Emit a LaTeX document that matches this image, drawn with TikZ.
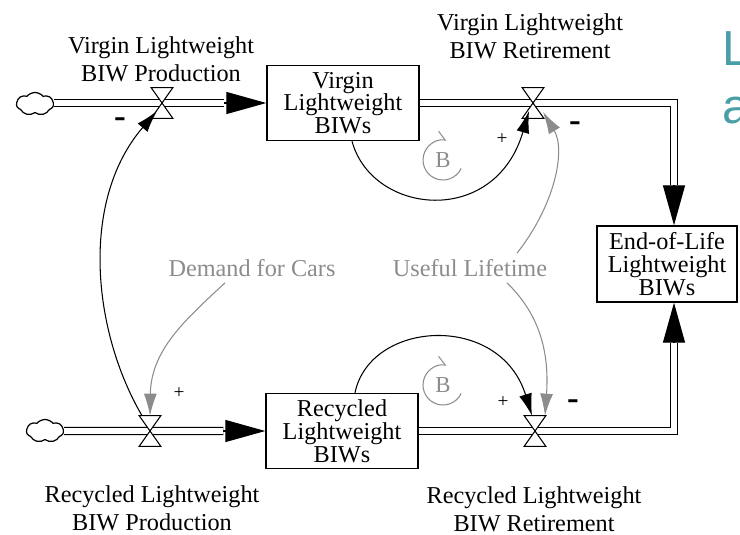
\documentclass[tikz,border=0pt]{standalone}
\usepackage{fontspec}
\setmainfont{Liberation Serif}
\newfontfamily\slidefont{Liberation Sans}
\usepackage{tikz}
\usetikzlibrary{arrows.meta, shapes.symbols}
\definecolor{auxgray}{HTML}{8C8C8C}
\definecolor{slideteal}{HTML}{4A9EA6}
\tikzset{
	stock/.style={
			rectangle,
			draw=black,
			line width=0.8pt,
			minimum width=3.04cm,
			minimum height=1.5cm,
			inner sep=1pt,
			align=center,
			font=\fontsize{13.8}{13}\selectfont
		},
	endstock/.style={
			stock,
			minimum width=2.8cm,
			minimum height=1.52cm
		},
	valve/.style={
			rectangle,
			minimum width=0.42cm,
			minimum height=0.6cm,
			inner sep=0pt
		},
	source/.style={
			cloud,
			draw=black,
			line width=0.7pt,
			cloud puffs=7,
			cloud puff arc=100,
			aspect=1.5,
			minimum width=0.74cm,
			minimum height=0.46cm,
			inner sep=0pt
		},
	pipe/.style={
			double,
			double distance=3.4pt,
			line width=0.7pt
		},
	pipetip/.style={
			-{Triangle[length=0.8cm, width=0.44cm]},
			line width=0.7pt
		},
	link/.style={
			-{Latex[length=0.44cm, width=0.26cm]},
			line width=0.6pt
		},
	graylink/.style={
			link,
			draw=auxgray
		},
	looparrow/.style={
			-{Straight Barb[harpoon, length=0.16cm, width=0.3cm]},
			draw=auxgray,
			line width=0.6pt
		}
}
\tikzset{
	flowtext/.style={align=center, font=\fontsize{13.8}{15.9}\selectfont}
}
\tikzset{
	auxtext/.style={text=auxgray, font=\fontsize{13.8}{15.9}\selectfont}
}
\tikzset{
	plussign/.style={font=\fontsize{11}{11}\selectfont},
	minussign/.style={font=\fontsize{20}{20}\selectfont\bfseries}
}
\newcommand{\drawvalve}[1]{%
  \filldraw[fill=white, line width=0.6pt]
    (#1.north west) -- (#1.north east) -- (#1.center) -- cycle
    (#1.south west) -- (#1.south east) -- (#1.center) -- cycle;}

\begin{document}
\begin{tikzpicture}[x=0.02cm, y=-0.02cm]
\useasboundingbox (0,0) rectangle (740,534);

\node[stock] (vstock) at (343,103) {Virgin\\Lightweight\\BIWs};
\node[stock] (rstock) at (342,431) {Recycled\\Lightweight\\BIWs};
\node[endstock] (eol) at (667,264) {End-of-Life\\Lightweight\\BIWs};

\node[source] (cloud1) at (35,104) {};
\node[source] (cloud2) at (45,431) {};

\node[valve] (vprod) at (162,103) {};
\node[valve] (vret) at (533,103) {};
\node[valve] (rprod) at (150,431) {};
\node[valve] (rret) at (535,431) {};

\coordinate (vcorner) at (674,103);
\coordinate (rcorner) at (674,431);

% flows
\draw[pipe] (cloud1.east |- vprod.center) -- (vprod.center) -- ([xshift=-0.84cm]vstock.west);
\draw[pipetip] ([xshift=-0.84cm]vstock.west) -- (vstock.west);
\draw[pipe] (vstock.east) -- (vret.center) -- (vcorner) -- ([yshift=0.8cm]vcorner |- eol.north);
\draw[pipetip] ([yshift=0.8cm]vcorner |- eol.north) -- (vcorner |- eol.north);

\draw[pipe] (cloud2.east) -- (rprod.center) -- ([xshift=-0.84cm]rstock.west);
\draw[pipetip] ([xshift=-0.84cm]rstock.west) -- (rstock.west);
\draw[pipe] (rstock.east) -- (rret.center) -- (rcorner) -- ([yshift=-0.8cm]rcorner |- eol.south);
\draw[pipetip] ([yshift=-0.8cm]rcorner |- eol.south) -- (rcorner |- eol.south);

\drawvalve{vprod}
\drawvalve{vret}
\drawvalve{rprod}
\drawvalve{rret}

\node[flowtext] (vprodtext) at (161,59) {Virgin Lightweight\\BIW Production};
\node[flowtext] (vrettext) at (530,36) {Virgin Lightweight\\BIW Retirement};
\node[flowtext] (rprodtext) at (152,508) {Recycled Lightweight\\BIW Production};
\node[flowtext] (rrettext) at (534,509) {Recycled Lightweight\\BIW Retirement};

\node[auxtext] (demand) at (252,268) {Demand for Cars};
\node[auxtext] (lifetime) at (470,268) {Useful Lifetime};

% causal links
\draw[link] ([xshift=-0.16cm]rprod.north) .. controls (92,330) and (80,200) .. ([xshift=-0.1cm, yshift=-0.16cm]vprod.center);
\draw[graylink] ([xshift=-0.54cm]demand.south) .. controls (185,320) and (151,350) .. (rprod.north);
\draw[link] ([xshift=0.18cm]vstock.south) .. controls (372,215) and (495,228) .. ([xshift=-0.08cm, yshift=-0.16cm]vret.center);
\draw[graylink] ([xshift=0.94cm]lifetime.north) .. controls (555,205) and (566,150) .. ([xshift=0.2cm, yshift=-0.18cm]vret.center);
\draw[graylink] ([xshift=0.74cm]lifetime.south) .. controls (535,310) and (550,345) .. ([xshift=0.2cm]rret.north);
\draw[link] ([xshift=0.26cm]rstock.north) .. controls (370,320) and (500,312) .. ([xshift=-0.06cm]rret.north);

\node[minussign] (m1) at (120,123) {-};
\node[plussign] (p1) at (502,139) {+};
\node[minussign] (m2) at (575,127) {-};
\node[plussign] (p2) at (179,393) {+};
\node[plussign] (p3) at (503,402) {+};
\node[minussign] (m3) at (573,405) {-};

% balancing loops
\node[auxtext, font=\fontsize{13}{13}\selectfont] (loop1) at (443,160) {B};
\node[auxtext, font=\fontsize{13}{13}\selectfont] (loop2) at (443,385) {B};
\draw[looparrow] ([shift={(-25:0.4cm)}]loop1.center) arc[start angle=-25, end angle=-280, radius=0.4cm];
\draw[looparrow] ([shift={(-25:0.4cm)}]loop2.center) arc[start angle=-25, end angle=-280, radius=0.4cm];

\node[anchor=base west, text=slideteal, font=\slidefont\fontsize{28}{28}\selectfont] (slideL) at (716,65) {L};
\node[anchor=base west, text=slideteal, font=\slidefont\fontsize{28}{28}\selectfont] (slidea) at (716,123) {a};
\end{tikzpicture}
\end{document}
